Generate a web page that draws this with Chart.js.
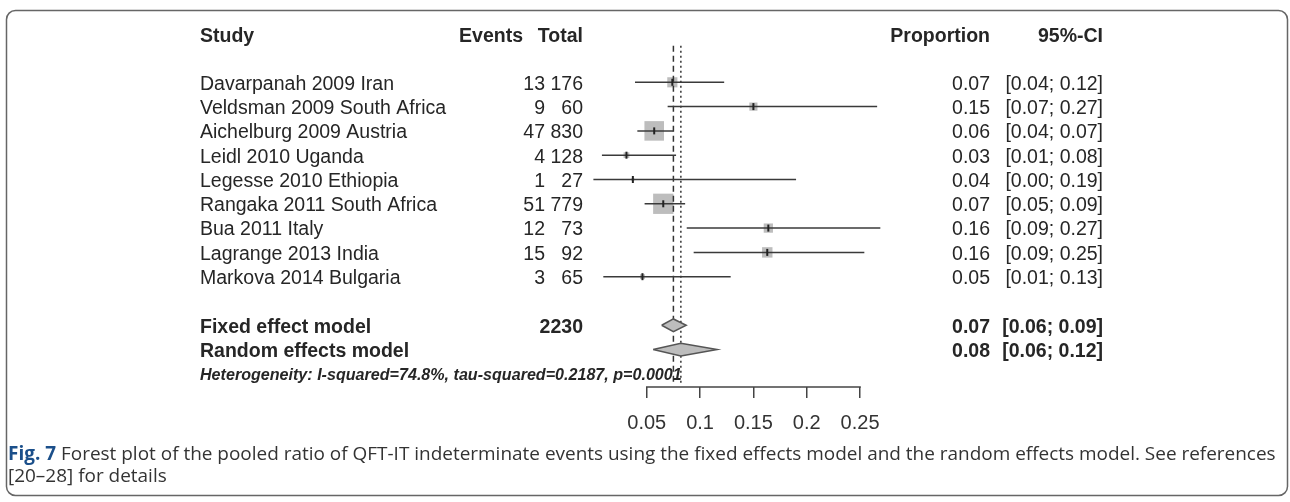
<!DOCTYPE html>
<html>
<head>
<meta charset="utf-8">
<script src="https://cdn.jsdelivr.net/npm/chart.js@4.4.1/dist/chart.umd.min.js"></script>
<style>
  html, body { margin: 0; padding: 0; background: #fff; }
  canvas { display: block; }
</style>
</head>
<body>
<canvas id="forest" width="1290" height="502"></canvas>
<script>
// Forest plot verileri
const studies = [
    'Davarpanah 2009 Iran', 'Veldsman 2009 South Africa', 'Aichelburg 2009 Austria',
    'Leidl 2010 Uganda', 'Legesse 2010 Ethiopia', 'Rangaka 2011 South Africa',
    'Bua 2011 Italy', 'Lagrange 2013 India', 'Markova 2014 Bulgaria'
];
const events = [13, 9, 47, 4, 1, 51, 12, 15, 3];
const totals = [176, 60, 830, 128, 27, 779, 73, 92, 65];
const proportions = [0.074, 0.15, 0.057, 0.031, 0.037, 0.0655, 0.164, 0.163, 0.046];
const ciLower = [0.039, 0.0696, 0.0412, 0.008, 0.0, 0.048, 0.0875, 0.094, 0.0093];
const ciUpper = [0.1226, 0.266, 0.0749, 0.0775, 0.19, 0.086, 0.269, 0.254, 0.1287];
const weights = [8.4, 5.4, 31.2, 2.7, 0.7, 33.6, 7.0, 8.9, 2.0];
// [tahmin, alt, üst]
const fixedModel = [0.075, 0.064, 0.087];
const randomModel = [0.082, 0.056, 0.116];
const fixedTotal = 2230;
const heterogeneity = 'Heterogeneity: I-squared=74.8%, tau-squared=0.2187, p=0.0001';
const tickValues = [0.05, 0.1, 0.15, 0.2, 0.25];

const FONT = '"Liberation Sans", Arial, sans-serif';
const ROW_FIXED = 11, ROW_RANDOM = 12, ROW_HET = 13, ROW_HEADER = -0.95;
const DIAMOND_H = 0.26;

function ciText(lo, hi) {
    return '[' + lo.toFixed(2) + '; ' + hi.toFixed(2) + ']';
}

function diamond(model, row) {
    return [
        { x: model[1], y: row },
        { x: model[0], y: row - DIAMOND_H },
        { x: model[2], y: row },
        { x: model[0], y: row + DIAMOND_H },
        { x: model[1], y: row }
    ];
}

const datasets = [];

// CI çizgileri
studies.forEach((s, i) => {
    datasets.push({
        data: [{ x: ciLower[i], y: i + 1 }, { x: ciUpper[i], y: i + 1 }],
        showLine: true, pointRadius: 0, borderColor: '#3a3a3a', borderWidth: 1.5,
        clip: false, order: 1
    });
});

// nokta tahmini işareti
datasets.push({
    data: proportions.map((p, i) => ({ x: p, y: i + 1 })),
    pointStyle: 'line', rotation: 90, pointRadius: 3.5, borderWidth: 2,
    borderColor: '#222', clip: false, order: 0
});

// referans çizgileri
datasets.push({
    data: [{ x: fixedModel[0], y: -0.5 }, { x: fixedModel[0], y: 13.45 }],
    showLine: true, pointRadius: 0, borderColor: '#333', borderWidth: 1.5,
    borderDash: [6, 4], clip: false, order: 2
});
datasets.push({
    data: [{ x: randomModel[0], y: -0.5 }, { x: randomModel[0], y: 13.45 }],
    showLine: true, pointRadius: 0, borderColor: '#333', borderWidth: 1.5,
    borderDash: [2, 3], clip: false, order: 2
});

// ağırlık kareleri
datasets.push({
    data: proportions.map((p, i) => ({ x: p, y: i + 1 })),
    pointStyle: 'rect',
    pointRadius: ctx => 3.5 * Math.sqrt(weights[ctx.dataIndex]) / Math.SQRT2,
    backgroundColor: '#bdbdbd', borderWidth: 0, clip: false, order: 3
});

// özet elmaslar
[[fixedModel, ROW_FIXED], [randomModel, ROW_RANDOM]].forEach(([m, row]) => {
    datasets.push({
        data: diamond(m, row), showLine: true, fill: 'shape', tension: 0,
        pointRadius: 0, borderColor: '#555', borderWidth: 1.5,
        backgroundColor: '#bdbdbd', clip: false, order: 1
    });
});

const tablePlugin = {
    id: 'forestTable',
    beforeDraw(chart) {
        const ctx = chart.ctx;
        ctx.save();
        ctx.fillStyle = '#fff';
        ctx.fillRect(0, 0, chart.width, chart.height);
        ctx.restore();
    },
    afterDraw(chart) {
        const ctx = chart.ctx;
        const y = chart.scales.y;
        const x = chart.scales.x;
        const rowY = r => y.getPixelForValue(r) + 2;
        ctx.save();
        ctx.fillStyle = '#262626';
        ctx.textBaseline = 'middle';

        const put = (str, px, py, align, font) => {
            ctx.font = font;
            ctx.textAlign = align;
            ctx.fillText(str, px, py);
        };
        const norm = '19.5px ' + FONT;
        const bold = 'bold 19.5px ' + FONT;

        // başlık
        const hy = rowY(ROW_HEADER);
        put('Study', 200, hy, 'left', bold);
        put('Events', 523, hy, 'right', bold);
        put('Total', 583, hy, 'right', bold);
        put('Proportion', 990, hy, 'right', bold);
        put('95%-CI', 1103, hy, 'right', bold);

        studies.forEach((s, i) => {
            const py = rowY(i + 1);
            put(s, 200, py, 'left', norm);
            put(String(events[i]), 545, py, 'right', norm);
            put(String(totals[i]), 583, py, 'right', norm);
            put(proportions[i].toFixed(2), 990, py, 'right', norm);
            put(ciText(ciLower[i], ciUpper[i]), 1103, py, 'right', norm);
        });

        let py = rowY(ROW_FIXED);
        put('Fixed effect model', 200, py, 'left', bold);
        put(String(fixedTotal), 583, py, 'right', bold);
        put(fixedModel[0].toFixed(2), 990, py, 'right', bold);
        put(ciText(fixedModel[1], fixedModel[2]), 1103, py, 'right', bold);

        py = rowY(ROW_RANDOM);
        put('Random effects model', 200, py, 'left', bold);
        put(randomModel[0].toFixed(2), 990, py, 'right', bold);
        put(ciText(randomModel[1], randomModel[2]), 1103, py, 'right', bold);

        // heterojenlik satırı, genişliğe sığdır
        ctx.font = 'italic bold 20px ' + FONT;
        let hs = 20 * 482 / ctx.measureText(heterogeneity).width;
        put(heterogeneity, 200, rowY(ROW_HET), 'left', 'italic bold ' + hs.toFixed(2) + 'px ' + FONT);

        // eksen çizgisi
        ctx.strokeStyle = '#444';
        ctx.lineWidth = 1.5;
        ctx.beginPath();
        ctx.moveTo(x.getPixelForValue(tickValues[0]) - 0.75, chart.chartArea.bottom);
        ctx.lineTo(x.getPixelForValue(tickValues[tickValues.length - 1]) + 0.75, chart.chartArea.bottom);
        ctx.stroke();

        // çerçeve
        ctx.strokeStyle = '#666';
        ctx.lineWidth = 1.5;
        ctx.beginPath();
        ctx.roundRect(6.5, 10.5, 1281, 485, 9);
        ctx.stroke();

        // alt yazı
        const capFont = '"Open Sans", "Noto Sans", sans-serif';
        const head = 'Fig. 7';
        const rest = ' Forest plot of the pooled ratio of QFT-IT indeterminate events using the fixed effects model and the random effects model. See references';
        ctx.font = 'bold 20px ' + capFont;
        let w = ctx.measureText(head).width;
        ctx.font = '20px ' + capFont;
        w += ctx.measureText(rest).width;
        const cs = 20 * 1269 / w;
        ctx.textAlign = 'left';
        ctx.font = 'bold ' + cs.toFixed(2) + 'px ' + capFont;
        ctx.fillStyle = '#1b4f8a';
        ctx.fillText(head, 8, 455);
        const hw = ctx.measureText(head).width;
        ctx.font = cs.toFixed(2) + 'px ' + capFont;
        ctx.fillStyle = '#333';
        ctx.fillText(rest, 8 + hw, 455);
        ctx.fillText('[20\u201328] for details', 8, 477);
        ctx.restore();
    }
};

new Chart(document.getElementById('forest'), {
    type: 'scatter',
    data: { datasets: datasets },
    options: {
        responsive: false,
        animation: false,
        devicePixelRatio: 1,
        layout: { padding: { left: 593.4, right: 376.6, top: 58, bottom: 0 } },
        plugins: { legend: { display: false }, tooltip: { enabled: false } },
        scales: {
            x: {
                type: 'linear', min: 0, max: 0.3, position: 'bottom',
                afterBuildTicks: scale => { scale.ticks = tickValues.map(v => ({ value: v })); },
                afterFit: scale => {
                    scale.height = 115;
                    scale.paddingLeft = 0;
                    scale.paddingRight = 0;
                },
                grid: { drawOnChartArea: false, drawTicks: true, tickLength: 11, color: '#444', lineWidth: 1.5 },
                border: { display: false },
                ticks: {
                    padding: 13, color: '#333', autoSkip: false, maxRotation: 0,
                    font: { family: FONT, size: 20 },
                    callback: v => String(v)
                }
            },
            y: { type: 'linear', min: 0, max: 13.54, reverse: true, display: false }
        }
    },
    plugins: [tablePlugin]
});
</script>
</body>
</html>
